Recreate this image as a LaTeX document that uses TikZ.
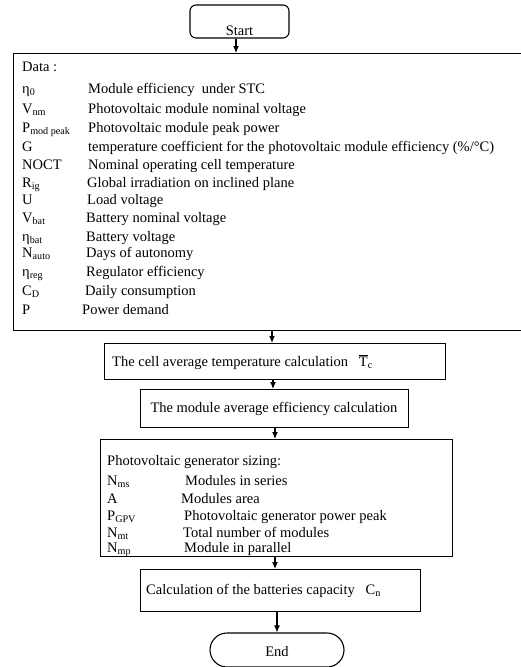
\documentclass[tikz,border=0pt]{standalone}
\usepackage{fontspec}
\setmainfont{Liberation Serif}
\usetikzlibrary{arrows.meta}
\begin{document}
\begin{tikzpicture}[x=1pt,y=-1pt,
  every node/.style={font=\fontsize{14.5}{17}\selectfont, inner sep=0pt},
  boxline/.style={draw=black, line width=1.1pt},
  arr/.style={line width=1.1pt, -{Latex[length=7pt,width=6pt]}},
  txt/.style={anchor=base west}]
\useasboundingbox (0,0) rectangle (520,667);
\fill[white] (0,0) rectangle (520,667);
% boxes
\node[boxline, rounded corners=6pt, minimum width=99pt, minimum height=33pt] (start) at (239.5,21.5) {};
\node[anchor=base] (starttxt) at (239.5,35) {Start};
\node[boxline, anchor=north west, minimum width=509pt, minimum height=277pt] (data) at (13,53) {};
\node[boxline, anchor=north west, minimum width=341pt, minimum height=36pt] (cell) at (104,343) {};
\node[boxline, anchor=north west, minimum width=268pt, minimum height=38pt] (module) at (140,389) {};
\node[boxline, anchor=north west, minimum width=352pt, minimum height=117pt] (sizing) at (100,439) {};
\node[boxline, anchor=north west, minimum width=280pt, minimum height=42pt] (battery) at (140,569) {};
\node[boxline, rounded corners=17pt, minimum width=134pt, minimum height=34pt] (end) at (277,650) {};
% texts
\node[anchor=base] (endtxt) at (277,656) {End};
\node[txt] (dt) at (22,71.5) {Data :};
\node[txt] (s1) at (22,93.5) {η\textsubscript{0}};
\node[txt] (d1) at (88,93.5) {Module efficiency\ \ under STC};
\node[txt] (s2) at (22,113.5) {V\textsubscript{nm}};
\node[txt] (d2) at (88,113.5) {Photovoltaic module nominal voltage};
\node[txt] (s3) at (22,132.5) {P\textsubscript{mod peak}};
\node[txt] (d3) at (88,132.5) {Photovoltaic module peak power};
\node[txt] (s4) at (22,151.5) {G};
\node[txt] (d4) at (88,151.5) {temperature coefficient for the photovoltaic module efficiency (\%/°C)};
\node[txt] (s5) at (22,169.5) {NOCT};
\node[txt] (d5) at (88,169.5) {Nominal operating cell temperature};
\node[txt] (s6) at (22,187.5) {R\textsubscript{ig}};
\node[txt] (d6) at (87,187.5) {Global irradiation on inclined plane};
\node[txt] (s7) at (22,204.5) {U};
\node[txt] (d7) at (87,204.5) {Load voltage};
\node[txt] (s8) at (22,222.5) {V\textsubscript{bat}};
\node[txt] (d8) at (86,222.5) {Battery nominal voltage};
\node[txt] (s9) at (22,241.5) {η\textsubscript{bat}};
\node[txt] (d9) at (86,241.5) {Battery voltage};
\node[txt] (s10) at (22,257.5) {N\textsubscript{auto}};
\node[txt] (d10) at (86,257.5) {Days of autonomy};
\node[txt] (s11) at (22,276.5) {η\textsubscript{reg}};
\node[txt] (d11) at (86,276.5) {Regulator efficiency};
\node[txt] (s12) at (22,295.5) {C\textsubscript{D}};
\node[txt] (d12) at (85,295.5) {Daily consumption};
\node[txt] (s13) at (22,314.5) {P};
\node[txt] (d13) at (82,314.5) {Power demand};
\node[txt] (celltxt) at (112,366.5) {The cell average temperature calculation\ \ \ $\overline{\hbox{T}}$\textsubscript{c}};
\node[anchor=base] (modtxt) at (274,412.5) {The module average efficiency calculation};
\node[txt] (sz) at (107,465.5) {Photovoltaic generator sizing:};
\node[txt] (z1) at (107,485.5) {N\textsubscript{ms}};
\node[txt] (e1) at (185,485.5) {Modules in series};
\node[txt] (z2) at (107,503.5) {A};
\node[txt] (e2) at (181,503.5) {Modules area};
\node[txt] (z3) at (107,520.5) {P\textsubscript{GPV}};
\node[txt] (e3) at (184,520.5) {Photovoltaic generator power peak};
\node[txt] (z4) at (107,537.5) {N\textsubscript{mt}};
\node[txt] (e4) at (183,537.5) {Total number of modules};
\node[txt] (z5) at (107,552.5) {N\textsubscript{mp}};
\node[txt] (e5) at (184,552.5) {Module in parallel};
\node[txt] (battxt) at (146,594.5) {Calculation of the batteries capacity\ \ \ C\textsubscript{n}};
% arrows
\coordinate (ax1) at (236,0);
\coordinate (ax2) at (272,0);
\coordinate (ax3) at (273,0);
\coordinate (ax4) at (275,0);
\coordinate (ax5) at (275,0);
\coordinate (ax6) at (277,0);
\draw[arr] (start.south -| ax1) -- (data.north -| ax1);
\draw[arr] (data.south -| ax2) -- (cell.north -| ax2);
\draw[arr] (cell.south -| ax3) -- (module.north -| ax3);
\draw[arr] (module.south -| ax4) -- (sizing.north -| ax4);
\draw[arr] (sizing.south -| ax5) -- (battery.north -| ax5);
\draw[arr] (battery.south -| ax6) -- (end.north -| ax6);
\end{tikzpicture}
\end{document}
